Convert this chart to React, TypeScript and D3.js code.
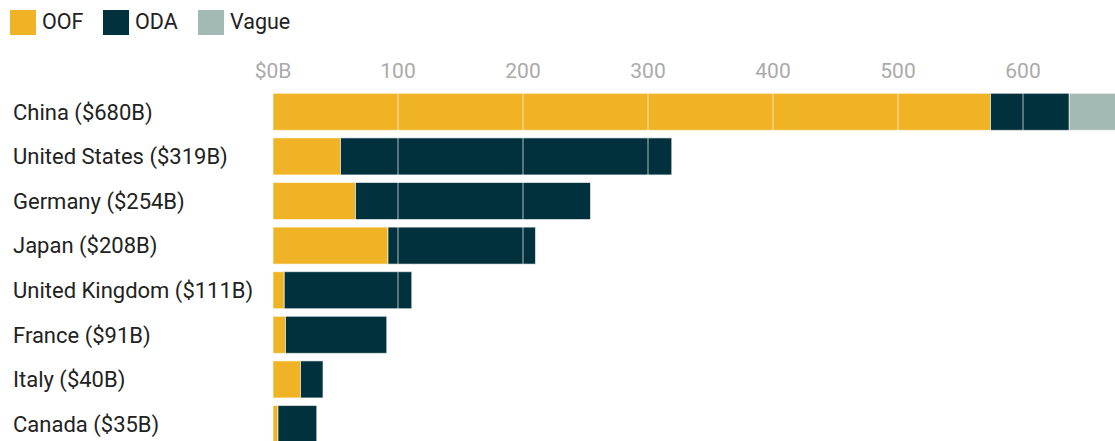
import React from "react";
import * as d3 from "d3";

const countries = ["China", "United States", "Germany", "Japan", "United Kingdom", "France", "Italy", "Canada"];
const totals = [680, 319, 254, 208, 111, 91, 40, 35];
const oof = [574, 54, 66, 92, 9, 10, 22, 4];
const oda = [63, 265, 188, 118, 102, 81, 18, 31];
const vague = [43, 0, 0, 0, 0, 0, 0, 0];
const seriesKeys = ["OOF", "ODA", "Vague"];
const seriesColors = ["#efb325", "#01313c", "#a3bab4"];
const ticks = [0, 100, 200, 300, 400, 500, 600];

export default function App() {
  const W = 1115, H = 441;
  const x = d3.scaleLinear().domain([0, 600]).range([273, 1023]);
  const pad = 0.17;
  const step = 44.6;
  const y = d3.scaleBand().domain(countries).range([93.3, 93.3 + step * (countries.length - pad)]).paddingInner(pad).paddingOuter(0);
  const rows = countries.map((c, i) => ({ c, OOF: oof[i], ODA: oda[i], Vague: vague[i] }));
  const stack = d3.stack<any>().keys(seriesKeys)(rows);
  const font = "Roboto, sans-serif";
  const legendX = [10, 103, 198];
  return (
    <svg width={W} height={H} style={{ position: "absolute", left: 0, top: 0 }} fontFamily={font}>
      {seriesKeys.map((k, i) => (
        <g key={k}>
          <rect x={legendX[i]} y={10} width={26} height={25} fill={seriesColors[i]} />
          <text x={legendX[i] + 32} y={21.5} dy="0.35em" fontSize={21.5} fill="#222">{k}</text>
        </g>
      ))}
      {ticks.map((t) => (
        <text key={t} x={x(t)} y={71} dy="0.35em" fontSize={21} fill="#aaa" textAnchor="middle">
          {t === 0 ? "$0B" : t}
        </text>
      ))}
      {stack.map((s, si) => (
        <g key={s.key} fill={seriesColors[si]}>
          {s.map((d: any, i: number) => (
            d[1] - d[0] > 0 ? (
              <rect key={i} x={x(d[0])} y={y(countries[i])} width={x(d[1]) - x(d[0])} height={y.bandwidth()}
                stroke="rgba(255,255,255,0.6)" strokeWidth={1} />
            ) : null
          ))}
        </g>
      ))}
      {ticks.filter((t) => t > 0).map((t) => (
        <g key={t}>
          {countries.map((c, i) => (
            totals[i] > t ? (
              <line key={c} x1={x(t)} x2={x(t)} y1={y(c)} y2={(y(c) as number) + y.bandwidth()} stroke="rgba(255,255,255,0.45)" strokeWidth={1.5} />
            ) : null
          ))}
        </g>
      ))}
      {countries.map((c, i) => (
        <text key={c} x={13} y={(y(c) as number) + y.bandwidth() / 2} dy="0.35em" fontSize={22} fill="#222">
          {`${c} ($${totals[i]}B)`}
        </text>
      ))}
    </svg>
  );
}
